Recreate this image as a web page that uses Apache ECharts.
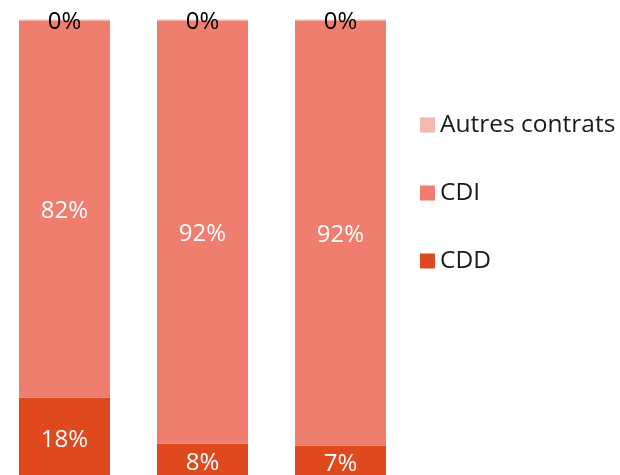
<!DOCTYPE html>
<html>
<head>
<meta charset="utf-8">
<script src="https://cdn.jsdelivr.net/npm/echarts@6/dist/echarts.min.js"></script>
<style>
  html, body { margin: 0; padding: 0; background: #fff; }
  #chart { width: 620px; height: 475px; }
</style>
</head>
<body>
<div id="chart"></div>
<script>
  const categories = ['A', 'B', 'C'];
  const cddValues = [17.8, 7.8, 7.4];
  const cdiValues = [81.9, 91.9, 92.3];
  const autresValues = [0.3, 0.3, 0.3];

  const fmt = (p) => Math.round(p.value) + '%';
  const font = 'Open Sans';

  const chart = echarts.init(document.getElementById('chart'));
  chart.setOption({
    animation: false,
    grid: { left: -4.5, top: 19.5, width: 414, height: 460, outerBoundsMode: 'none', containLabel: false },
    xAxis: {
      type: 'category',
      data: categories,
      show: false,
    },
    yAxis: {
      type: 'value',
      min: 0,
      max: 100,
      show: false,
    },
    legend: {
      orient: 'vertical',
      left: 415,
      top: 106,
      itemWidth: 15,
      itemHeight: 15,
      itemGap: 40,
      icon: 'rect',
      data: ['Autres contrats', 'CDI', 'CDD'],
      textStyle: { fontFamily: font, fontSize: 24.5, color: '#1a1a1a', lineHeight: 28 },
    },
    series: [
      {
        name: 'CDD',
        type: 'bar',
        stack: 'total',
        barWidth: 91,
        data: cddValues,
        itemStyle: { color: '#DE4A1E' },
        label: { show: true, position: 'inside', offset: [0, 2], formatter: fmt, color: '#fff', fontFamily: font, fontSize: 24 },
      },
      {
        name: 'CDI',
        type: 'bar',
        stack: 'total',
        barWidth: 91,
        data: cdiValues,
        itemStyle: { color: '#F07E6E' },
        label: { show: true, position: 'inside', offset: [0, 2], formatter: fmt, color: '#fff', fontFamily: font, fontSize: 24 },
      },
      {
        name: 'Autres contrats',
        type: 'bar',
        stack: 'total',
        barWidth: 91,
        data: autresValues,
        itemStyle: { color: '#F5B7B1' },
        label: { show: true, position: 'inside', offset: [0, 2], formatter: fmt, color: '#000', fontFamily: font, fontSize: 24 },
      },
    ],
  });
</script>
</body>
</html>
